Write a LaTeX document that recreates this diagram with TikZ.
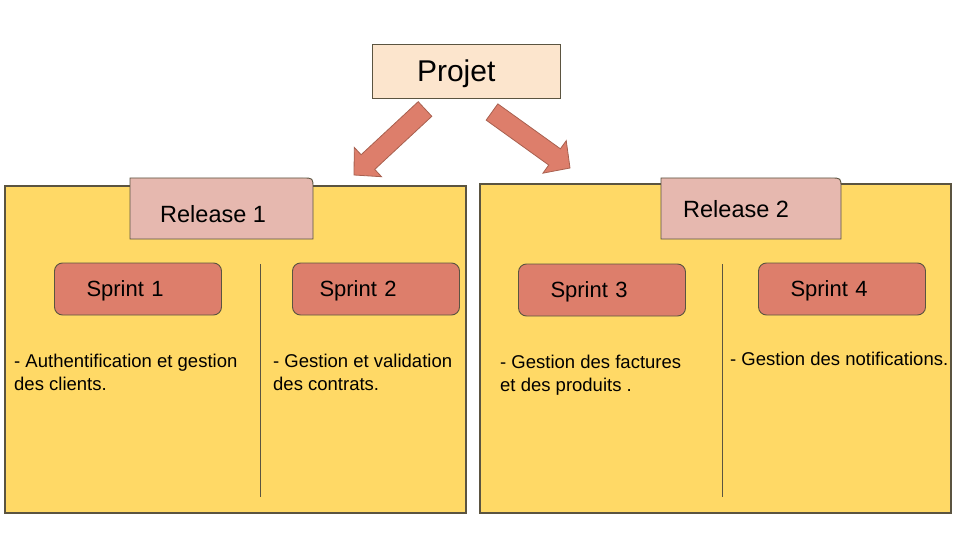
\documentclass[tikz,border=0pt]{standalone}
\usepackage{fontspec}
\setmainfont{Liberation Sans}
\usetikzlibrary{calc}

\definecolor{projetfill}{HTML}{FCE5CD}
\definecolor{releasefill}{HTML}{FFD966}
\definecolor{tabfill}{HTML}{E6B8AF}
\definecolor{sprintfill}{HTML}{DD7E6B}
\definecolor{edge}{HTML}{5B5440}
\definecolor{arrowedge}{HTML}{A8604F}

% block arrow between two named coordinates: #1 tail, #2 tip
\newcommand{\blockarrow}[2]{%
  \coordinate (#2 base) at ($(#2)!19pt!(#1)$);
  \filldraw[big arrow] ($(#1)!10pt!90:(#2)$) -- ($(#2 base)!10pt!90:(#2)$)
    -- ($(#2 base)!20pt!90:(#2)$) -- (#2) -- ($(#2 base)!20pt!-90:(#2)$)
    -- ($(#2 base)!10pt!-90:(#2)$) -- ($(#1)!10pt!-90:(#2)$) -- cycle;}

\begin{document}
\begin{tikzpicture}[x=1pt,y=-1pt,
  box/.style={rectangle,draw=edge,line width=0.9pt,text depth=0pt,inner ysep=0pt,align=left},
  projet node/.style={box,fill=projetfill,minimum width=188pt,minimum height=54pt,inner xsep=45pt,text width=98pt,font=\fontsize{30}{36}\selectfont},
  sprint node/.style={box,fill=sprintfill,rounded corners=8pt,minimum width=167pt,minimum height=52pt,inner xsep=32pt,text width=103pt,font=\fontsize{22}{26}\selectfont},
  release/.style={draw=edge,line width=1.2pt,fill=releasefill},
  tab/.style={draw=edge,line width=0.9pt,fill=tabfill},
  tab text/.style={anchor=base west,inner sep=0pt,font=\fontsize{23.5}{28}\selectfont},
  task/.style={anchor=base west,inner sep=0pt,align=left,font=\fontsize{18.5}{23}\selectfont},
  divider/.style={draw=edge,line width=0.8pt},
  big arrow/.style={fill=sprintfill,draw=arrowedge,line width=0.8pt,line join=miter}]

  \useasboundingbox (0,0) rectangle (960,540);

  % releases
  \filldraw[release] (5,186) rectangle (466,513);
  \filldraw[release] (480,184) rectangle (951,513);
  \filldraw[tab] (130,239) -- (130,178) -- (303,178) .. controls (313,178) .. (313,188) -- (313,239) -- cycle;
  \filldraw[tab] (661,239) -- (661,178) -- (831,178) .. controls (841,178) .. (841,188) -- (841,239) -- cycle;
  \node[tab text] (rel1) at (160,222) {Release 1};
  \node[tab text] (rel2) at (683,217) {Release 2};

  % sprints
  \node[sprint node] (s1) at (138,289) {Sprint 1};
  \node[sprint node,inner xsep=27pt,text width=113pt] (s2) at (376,289) {Sprint 2};
  \node[sprint node] (s3) at (602,290) {Sprint 3};
  \node[sprint node] (s4) at (842,289) {Sprint 4};
  \draw[divider] (260,264) -- (260,497);
  \draw[divider] (722,264) -- (722,497);

  % tasks (base = last line)
  \node[task] (t1) at (14,390) {- Authentification et gestion\\des clients.};
  \node[task] (t2) at (273,390) {- Gestion et validation\\des contrats.};
  \node[task] (t3) at (500,391) {- Gestion des factures\\et des produits .};
  \node[task] (t4) at (730,365) {- Gestion des notifications.};

  % project
  \node[projet node] (projet) at (466,71) {Projet};
  \coordinate (left tail) at (425,109);
  \coordinate (left tip) at (354,175);
  \coordinate (right tail) at (492,112);
  \coordinate (right tip) at (570,168);
  \blockarrow{left tail}{left tip}
  \blockarrow{right tail}{right tip}
\end{tikzpicture}
\end{document}
